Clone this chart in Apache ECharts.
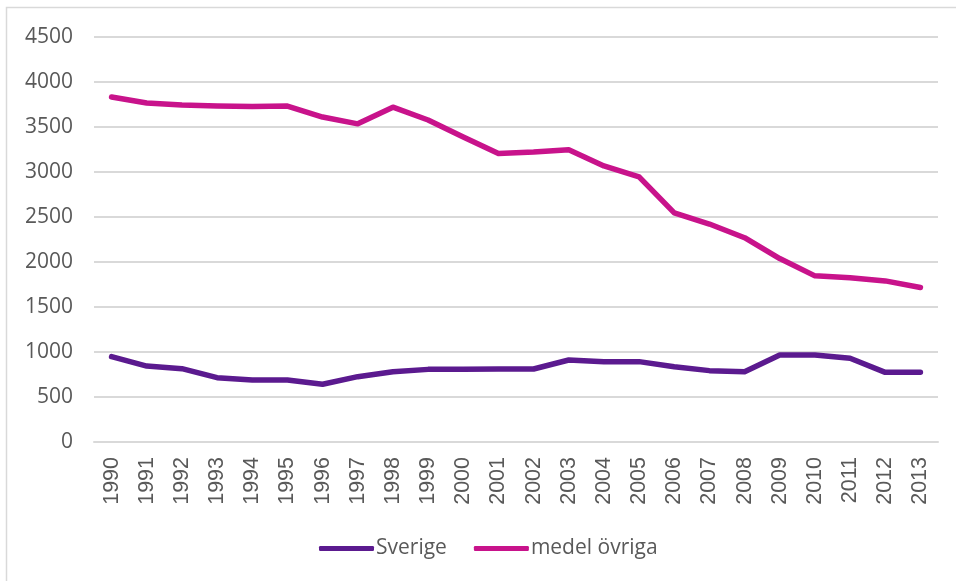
<!DOCTYPE html>
<html>
<head>
<meta charset="utf-8">
<script src="https://cdn.jsdelivr.net/npm/echarts@6/dist/echarts.min.js"></script>
<style>html,body{margin:0;padding:0;background:#fff}#c{width:956px;height:581px}</style>
</head>
<body>
<div id="c"></div>
<script>
const years = ['1990','1991','1992','1993','1994','1995','1996','1997','1998','1999','2000','2001','2002','2003','2004','2005','2006','2007','2008','2009','2010','2011','2012','2013'];
const sverige = [948,844,815,715,689,689,641,726,781,807,807,811,811,911,893,893,837,793,781,967,967,930,774,774];
const medelOvriga = [3833,3767,3744,3733,3728,3733,3611,3535,3720,3578,3389,3205,3222,3248,3067,2946,2546,2422,2270,2038,1846,1824,1790,1716];
const yTicks = {min:0, max:4500, interval:500};

const chart = echarts.init(document.getElementById('c'), null, {renderer:'canvas'});
const font = '"Open Sans", sans-serif';
chart.setOption({
  animation:false,
  backgroundColor:'#fff',
  graphic:[{type:'rect', shape:{x:6.5, y:7.5, width:980, height:600}, style:{fill:'none', stroke:'#d9d9d9', lineWidth:1.5}, silent:true}],
  grid:{left:94, right:18, top:37, bottom:139},
  legend:{
    top:533, left:314,
    itemWidth:55, itemHeight:5, itemGap:27,
    icon:'roundRect',
    textStyle:{fontFamily:font, fontSize:21, color:'#595959', padding:[0,0,0,-3]},
    data:['Sverige','medel övriga']
  },
  xAxis:{
    type:'category', data:years, boundaryGap:true,
    axisLine:{lineStyle:{color:'#d9d9d9', width:2}},
    axisTick:{show:false},
    axisLabel:{rotate:90, fontFamily:'"Liberation Sans", Arial, sans-serif', fontSize:21.5, color:'#595959', margin:15, interval:0}
  },
  yAxis:{
    type:'value', min:yTicks.min, max:yTicks.max, interval:yTicks.interval,
    axisLine:{show:false}, axisTick:{show:false},
    splitLine:{lineStyle:{color:'#d9d9d9', width:2}},
    axisLabel:{fontFamily:font, fontSize:21, color:'#595959', margin:21, formatter:function(v){return String(v);}}
  },
  series:[
    {name:'Sverige', type:'line', data:sverige, symbol:'none', lineStyle:{color:'#5B1A8F', width:5.5, cap:'round', join:'round'}, itemStyle:{color:'#5B1A8F'}},
    {name:'medel övriga', type:'line', data:medelOvriga, symbol:'none', lineStyle:{color:'#C8138B', width:5.5, cap:'round', join:'round'}, itemStyle:{color:'#C8138B'}}
  ]
});
</script>
</body>
</html>
